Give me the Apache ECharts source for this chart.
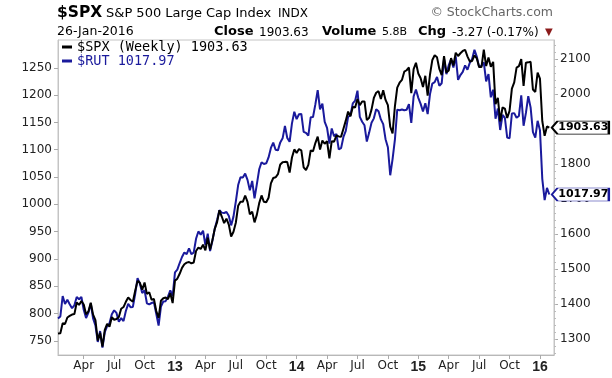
<!DOCTYPE html>
<html><head><meta charset="utf-8">
<script src="https://cdn.jsdelivr.net/npm/echarts@6/dist/echarts.min.js"></script>
<style>html,body{margin:0;padding:0;background:#fff}#c{width:612px;height:378px}</style>
</head><body><div id="c"></div>
<script>
// Weekly closes, first week ending 2012-01-20, last bar 2016-01-26
const firstWeek = [2012, 0, 20];
const spx2012 = [1315.38,1316.33,1344.90,1342.64,1361.23,1365.74,1369.63,1370.87,1404.17,1397.11,1408.47,1398.08,1370.26,1378.53,1403.36,1369.10,1353.39,1295.22,1317.82,1278.04,1325.66,1342.84,1335.02,1362.16,1354.68,1356.78,1362.66,1385.97,1390.99,1405.87,1418.16,1411.13,1406.58,1437.92,1465.77,1460.15,1440.67,1460.93,1428.59,1433.19,1411.94,1414.20,1379.85,1359.88,1409.15,1416.18,1418.07,1413.58,1430.15,1402.43];
const spx2013 = [1466.47,1472.05,1485.98,1502.96,1513.17,1517.93,1519.79,1515.60,1518.20,1551.18,1560.70,1556.89,1569.19,1553.28,1588.85,1555.25,1582.24,1614.42,1633.70,1667.47,1649.60,1630.74,1643.38,1626.73,1592.43,1606.28,1631.89,1680.19,1692.09,1691.65,1709.67,1691.42,1655.83,1663.50,1632.97,1655.17,1687.99,1709.91,1691.75,1690.50,1703.20,1744.50,1759.77,1761.64,1770.61,1798.18,1804.76,1805.81,1805.09,1775.32,1818.32,1841.40];
const spx2014 = [1831.37,1842.37,1838.70,1790.29,1782.59,1797.02,1838.63,1836.25,1859.45,1878.04,1841.13,1866.52,1857.62,1865.09,1815.69,1864.85,1863.40,1881.14,1878.48,1877.86,1900.53,1923.57,1949.44,1936.16,1962.87,1960.96,1985.44,1967.57,1978.22,1978.34,1925.15,1931.59,1955.06,1988.40,2003.37,2007.71,1985.54,2010.40,1982.85,1967.90,1906.13,1886.76,1964.58,2018.05,2031.92,2039.82,2063.50,2067.56,2075.37,2002.33,2070.65,2088.77];
const spx2015 = [2058.20,2044.81,2019.42,2051.82,1994.99,2055.47,2096.99,2110.30,2104.50,2071.26,2053.40,2108.10,2061.02,2066.96,2102.06,2081.18,2117.69,2108.29,2116.10,2122.73,2126.06,2107.39,2092.83,2094.11,2109.99,2101.49,2076.78,2076.62,2126.64,2079.65,2103.84,2077.57,2091.54,1970.89,1988.87,1921.22,1961.05,1958.03,1931.34,1951.36,2014.89,2033.11,2075.15,2079.36,2099.20,2023.04,2089.17,2090.11,2091.69,2012.37,2005.55,2060.99,2043.94];
const spx2016 = [1922.03,1880.33,1906.90,1903.63];

const rut2012 = [790.76,794.53,832.07,817.46,825.09,816.89,809.79,815.11,830.27,826.08,830.30,806.93,791.73,801.54,818.30,791.05,778.14,747.88,767.84,737.42,765.65,776.79,781.94,798.49,805.76,801.05,784.96,791.57,786.09,804.48,817.63,811.62,812.09,835.88,864.70,854.59,837.45,842.64,818.83,816.89,819.25,820.63,799.52,777.99,812.72,821.92,822.63,830.76,842.49,831.90];
const rut2013 = [875.25,880.25,892.47,903.49,911.79,908.77,919.14,908.78,911.42,936.82,950.35,944.49,951.54,925.24,946.38,914.38,933.32,955.37,971.26,989.12,984.78,984.14,985.88,978.97,961.45,977.48,1004.84,1035.24,1049.65,1049.02,1056.24,1044.76,1025.54,1042.73,1010.90,1036.95,1064.18,1077.09,1073.88,1075.21,1085.90,1103.24,1112.95,1099.92,1098.82,1113.47,1120.88,1143.37,1121.48,1114.62,1148.20,1169.46];
const rut2014 = [1156.09,1165.06,1165.54,1132.85,1130.88,1125.64,1159.40,1159.90,1183.03,1209.06,1174.13,1184.55,1151.04,1140.05,1111.44,1139.00,1124.71,1128.79,1100.89,1102.92,1123.36,1134.50,1160.33,1163.18,1184.91,1189.84,1208.15,1160.09,1151.26,1144.76,1114.86,1131.34,1149.50,1157.45,1174.35,1170.45,1155.51,1146.89,1119.33,1104.62,1053.25,1082.81,1118.63,1173.51,1172.43,1173.77,1172.39,1173.23,1183.38,1149.16,1197.79,1210.29];
const rut2015 = [1195.00,1184.00,1170.00,1185.00,1165.39,1202.04,1221.24,1223.72,1233.37,1217.12,1221.75,1266.37,1238.35,1254.97,1265.39,1250.66,1271.00,1228.11,1236.80,1242.66,1254.48,1246.53,1259.18,1266.34,1283.00,1270.75,1251.32,1253.95,1260.10,1225.23,1238.68,1196.00,1210.02,1156.79,1175.42,1136.17,1163.58,1158.57,1122.13,1121.00,1166.36,1167.07,1158.50,1161.86,1199.74,1143.91,1167.40,1198.11,1177.66,1132.24,1122.00,1153.00,1135.89];
const rut2016 = [1046.20,1007.75,1030.24,1017.97];

const spxValues = [].concat(spx2012, spx2013, spx2014, spx2015, spx2016);
const rutValues = [].concat(rut2012, rut2013, rut2014, rut2015, rut2016);

const leftTicks = [750,800,850,900,950,1000,1050,1100,1150,1200,1250];
const rightTicks = [1300,1400,1500,1600,1700,1800,1900,2000,2100];
const monthNames = ['Jan','Feb','Mar','Apr','May','Jun','Jul','Aug','Sep','Oct','Nov','Dec'];

const padWeeks = 2;
const categories = [];
{
  let t = Date.UTC(firstWeek[0], firstWeek[1], firstWeek[2]);
  for (let i = 0; i < spxValues.length + padWeeks; i++) {
    categories.push(new Date(t).toISOString().slice(0, 10));
    t += 7 * 864e5;
  }
}
const rightMinor = [];
for (let v = 1260; v <= 2140; v += 20) rightMinor.push(v);

function isQuarterStart(i) {
  if (i <= 0 || i >= spxValues.length) return false;
  const m = +categories[i].slice(5, 7) - 1;
  const pm = +categories[i - 1].slice(5, 7) - 1;
  return m !== pm && m % 3 === 0;
}

const blue = '#1a1a9c';
const spxName = '$SPX (Weekly) ' + spxValues[spxValues.length - 1].toFixed(2);
const rutName = '$RUT ' + rutValues[rutValues.length - 1].toFixed(2);

function tag(vals, border) {
  const i = vals.length - 1;
  return {
    symbol: 'path://M0,6.5L6,0L60,0L60,13L6,13Z',
    symbolSize: [57, 13], symbolKeepAspect: false, symbolOffset: [31, 0],
    silent: true, animation: false,
    itemStyle: { color: '#fff', borderColor: border, borderWidth: 1.2 },
    label: { show: true, position: 'inside', offset: [3, 0], formatter: vals[i].toFixed(2),
      color: '#000', fontFamily: 'DejaVu Sans', fontWeight: 'bold', fontSize: 11 },
    data: [{ coord: [categories[i], vals[i]] }]
  };
}

const axisFont = { fontFamily: 'DejaVu Sans', fontSize: 12, color: '#222' };
const plain = (v) => String(v);
const chart = echarts.init(document.getElementById('c'), null, { renderer: 'canvas' });

function txt(x, y, text, font, fill, align) {
  return { type: 'text', silent: true, z: 10,
    style: { x: x, y: y, text: text, font: font, fill: fill || '#000', align: align || 'left', verticalAlign: 'middle' } };
}

chart.setOption({
  animation: false,
  backgroundColor: '#fff',
  grid: { left: 58, right: 58, top: 40, bottom: 23, show: true, borderColor: '#c4c4c4', borderWidth: 1, outerBoundsMode: 'none' },
  legend: {
    orient: 'vertical', left: 62, top: 40, itemWidth: 10, itemHeight: 3, itemGap: 0, icon: 'rect',
    selectedMode: false, padding: 0,
    textStyle: { fontFamily: 'DejaVu Sans Mono', fontSize: 13.5, lineHeight: 14 },
    data: [{ name: spxName, textStyle: { color: '#000' } }, { name: rutName, textStyle: { color: blue } }]
  },
  xAxis: {
    type: 'category', data: categories, boundaryGap: false,
    axisLine: { lineStyle: { color: '#b8b8b8' } },
    axisTick: { interval: (i) => isQuarterStart(i), length: 4, lineStyle: { color: '#aaa' } },
    axisLabel: {
      interval: (i) => isQuarterStart(i), margin: 5, ...axisFont,
      formatter: (v) => { const m = +v.slice(5, 7); return m === 1 ? '{y|' + v.slice(2, 4) + '}' : monthNames[m - 1]; },
      rich: { y: { fontFamily: 'Liberation Sans', fontWeight: 'bold', fontSize: 14, color: '#222' } }
    },
    splitLine: { show: false }
  },
  yAxis: [
    { type: 'value', position: 'left', min: 724, max: 1301,
      axisLine: { show: true, lineStyle: { color: '#c4c4c4' } },
      axisTick: { show: true, customValues: leftTicks, length: 4, lineStyle: { color: '#aaa' } },
      axisLabel: { customValues: leftTicks, margin: 6, formatter: plain, ...axisFont },
      splitLine: { show: false } },
    { type: 'value', position: 'right', min: 1254, max: 2154,
      axisLine: { show: true, lineStyle: { color: '#c4c4c4' } },
      axisTick: { show: true, customValues: rightTicks, length: 4, lineStyle: { color: '#aaa' } },
      axisLabel: { customValues: rightTicks, margin: 6, formatter: plain, ...axisFont },
      splitLine: { show: false } },
    { type: 'value', position: 'right', min: 1254, max: 2154,
      axisLine: { show: false },
      axisTick: { show: true, customValues: rightMinor, length: 2, lineStyle: { color: '#bbb' } },
      axisLabel: { show: false }, splitLine: { show: false } }
  ],
  series: [
    { name: rutName, type: 'line', yAxisIndex: 0, data: rutValues, symbol: 'none', clip: false,
      lineStyle: { width: 2, color: blue }, itemStyle: { color: blue }, z: 2,
      markPoint: tag(rutValues, blue) },
    { name: spxName, type: 'line', yAxisIndex: 1, data: spxValues, symbol: 'none', clip: false,
      lineStyle: { width: 2, color: '#000' }, itemStyle: { color: '#000' }, z: 3,
      markPoint: tag(spxValues, '#000') }
  ],
  graphic: [
    txt(57, 13, '$SPX', 'bold 15.5px "DejaVu Sans"'),
    txt(106, 13.5, 'S&P 500 Large Cap Index', '13px "DejaVu Sans"'),
    txt(278, 14, 'INDX', '12px "DejaVu Sans"'),
    txt(553, 13, '© StockCharts.com', '12.5px "DejaVu Sans"', '#666', 'right'),
    txt(57, 32, '26-Jan-2016', '12.5px "DejaVu Sans"'),
    txt(214, 32, 'Close', 'bold 13px "DejaVu Sans"'),
    txt(259, 32.5, '1903.63', '12px "DejaVu Sans"'),
    txt(322, 32, 'Volume', 'bold 13px "DejaVu Sans"'),
    txt(382, 32.5, '5.8B', '11px "DejaVu Sans"'),
    txt(418, 32, 'Chg', 'bold 13px "DejaVu Sans"'),
    txt(452, 32.5, '-3.27 (-0.17%)', '12px "DejaVu Sans"'),
    txt(545, 32, '▼', '10px "DejaVu Sans"', '#8b1a1a')
  ]
});
</script>
</body></html>
